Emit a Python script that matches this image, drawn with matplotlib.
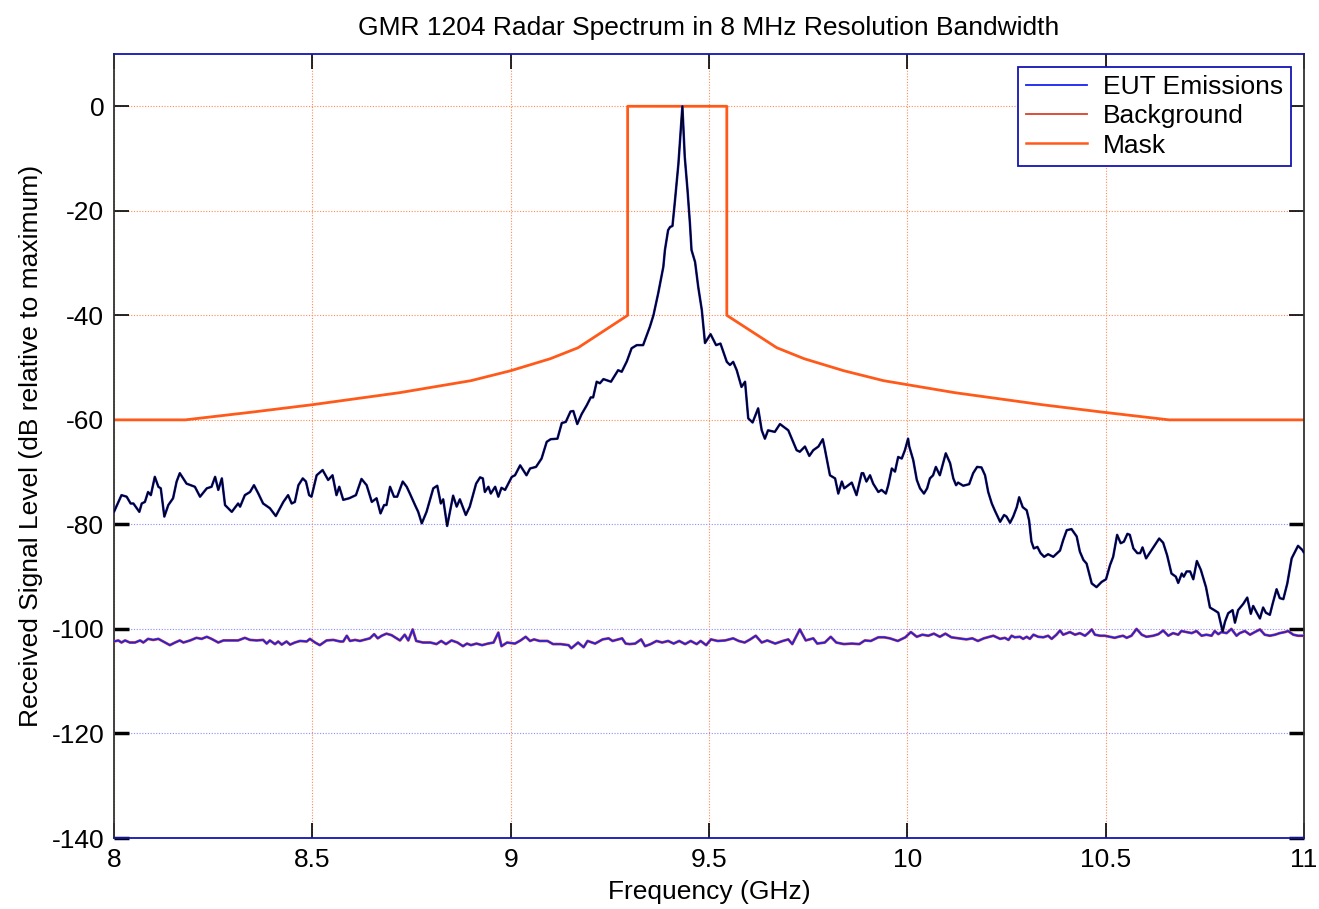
import matplotlib
matplotlib.use('Agg')
import matplotlib.pyplot as plt
from matplotlib.lines import Line2D

plt.rcParams['font.family'] = ['Liberation Sans', 'DejaVu Sans']
plt.rcParams['axes.unicode_minus'] = False

# EUT emissions spectrum (GHz, dB relative to maximum)
eut_freq = [
    8.000, 8.019, 8.032, 8.042, 8.049, 8.064, 8.070, 8.078, 8.086, 8.093,
    8.103, 8.112, 8.118, 8.127, 8.137, 8.149, 8.158, 8.166, 8.183, 8.204,
    8.217, 8.234, 8.246, 8.255, 8.263, 8.272, 8.280, 8.297, 8.313, 8.318,
    8.330, 8.343, 8.353, 8.364, 8.376, 8.393, 8.408, 8.427, 8.439, 8.448,
    8.456, 8.465, 8.476, 8.484, 8.492, 8.498, 8.511, 8.526, 8.540, 8.551,
    8.561, 8.568, 8.578, 8.593, 8.610, 8.624, 8.637, 8.650, 8.662, 8.672,
    8.681, 8.687, 8.696, 8.706, 8.714, 8.728, 8.738, 8.746, 8.759, 8.767,
    8.776, 8.788, 8.805, 8.815, 8.824, 8.830, 8.840, 8.855, 8.864, 8.872,
    8.887, 8.897, 8.913, 8.923, 8.930, 8.935, 8.944, 8.950, 8.961, 8.969,
    8.977, 8.986, 9.003, 9.011, 9.024, 9.040, 9.049, 9.064, 9.078, 9.091,
    9.101, 9.118, 9.129, 9.139, 9.151, 9.158, 9.168, 9.179, 9.192, 9.202,
    9.208, 9.217, 9.225, 9.234, 9.253, 9.271, 9.280, 9.293, 9.305, 9.318,
    9.334, 9.351, 9.360, 9.372, 9.385, 9.389, 9.397, 9.402, 9.408, 9.414,
    9.423, 9.433, 9.439, 9.446, 9.452, 9.456, 9.465, 9.473, 9.482, 9.490,
    9.504, 9.518, 9.529, 9.545, 9.553, 9.561, 9.570, 9.582, 9.591, 9.599,
    9.610, 9.624, 9.633, 9.641, 9.649, 9.666, 9.679, 9.700, 9.721, 9.729,
    9.742, 9.753, 9.763, 9.776, 9.787, 9.792, 9.805, 9.818, 9.826, 9.835,
    9.841, 9.860, 9.872, 9.885, 9.889, 9.897, 9.906, 9.914, 9.927, 9.935,
    9.946, 9.952, 9.961, 9.969, 9.977, 9.986, 9.994, 10.002, 10.005, 10.015,
    10.024, 10.032, 10.042, 10.050, 10.057, 10.065, 10.072, 10.082, 10.097, 10.108,
    10.116, 10.123, 10.128, 10.141, 10.156, 10.166, 10.176, 10.187, 10.196, 10.204,
    10.213, 10.221, 10.234, 10.244, 10.250, 10.259, 10.267, 10.276, 10.282, 10.291,
    10.301, 10.307, 10.313, 10.319, 10.328, 10.336, 10.345, 10.355, 10.368, 10.385,
    10.393, 10.402, 10.414, 10.427, 10.435, 10.444, 10.452, 10.465, 10.477, 10.490,
    10.501, 10.511, 10.519, 10.529, 10.538, 10.546, 10.555, 10.561, 10.570, 10.580,
    10.587, 10.593, 10.602, 10.616, 10.635, 10.645, 10.655, 10.666, 10.677, 10.683,
    10.692, 10.697, 10.704, 10.713, 10.721, 10.730, 10.740, 10.753, 10.763, 10.776,
    10.784, 10.795, 10.801, 10.809, 10.820, 10.826, 10.834, 10.847, 10.857, 10.866,
    10.872, 10.881, 10.889, 10.897, 10.904, 10.914, 10.921, 10.931, 10.939, 10.948,
    10.958, 10.969, 10.985, 10.996, 11.000,
]
eut_level = [
    -77.6, -74.4, -74.7, -76.0, -76.0, -77.6, -76.0, -75.7, -73.8, -74.4,
    -70.9, -72.8, -73.1, -78.5, -76.3, -75.0, -71.8, -70.2, -72.2, -72.8,
    -74.7, -73.1, -72.8, -70.9, -73.4, -71.2, -76.3, -77.6, -76.0, -76.6,
    -74.4, -73.8, -72.5, -74.1, -76.0, -76.9, -78.4, -75.7, -74.4, -76.0,
    -75.7, -72.5, -71.2, -71.8, -74.4, -74.7, -70.6, -69.6, -71.5, -70.6,
    -74.4, -72.8, -75.3, -75.0, -74.4, -71.3, -72.5, -75.7, -75.0, -77.9,
    -76.3, -76.3, -72.8, -74.7, -74.7, -71.8, -72.8, -74.1, -76.3, -77.6,
    -79.8, -77.6, -73.1, -72.6, -76.0, -75.2, -80.3, -74.5, -76.6, -75.2,
    -78.2, -76.6, -72.2, -71.0, -71.2, -73.8, -72.8, -74.1, -72.8, -74.7,
    -73.0, -73.4, -70.9, -70.6, -68.7, -70.6, -69.3, -69.0, -67.4, -64.2,
    -63.7, -63.6, -60.6, -60.4, -58.4, -58.3, -60.8, -58.9, -57.2, -55.7,
    -55.7, -52.7, -53.0, -52.2, -52.7, -50.5, -50.8, -48.8, -46.3, -45.7,
    -45.7, -42.2, -40.0, -35.8, -30.7, -27.5, -23.7, -23.1, -22.9, -18.3,
    -11.0, 0.0, -9.7, -16.1, -22.4, -27.5, -29.8, -34.6, -39.0, -45.3,
    -43.6, -45.7, -45.4, -48.9, -49.5, -48.9, -50.5, -53.7, -52.7, -59.7,
    -60.5, -57.8, -62.0, -63.6, -62.0, -62.3, -60.8, -62.0, -65.8, -66.1,
    -65.1, -66.9, -65.8, -65.1, -63.7, -65.5, -70.6, -71.2, -74.1, -71.8,
    -73.1, -72.0, -74.4, -70.2, -70.2, -71.8, -70.6, -72.2, -73.8, -73.4,
    -74.1, -72.5, -69.3, -69.9, -67.1, -67.4, -65.8, -63.6, -65.1, -67.7,
    -71.5, -73.1, -74.1, -73.1, -71.2, -70.6, -69.0, -70.6, -66.4, -68.3,
    -71.2, -72.5, -72.0, -72.6, -72.3, -70.2, -69.0, -69.1, -70.6, -73.8,
    -76.0, -77.4, -79.5, -78.2, -78.5, -79.7, -78.5, -76.7, -74.8, -76.7,
    -77.3, -79.2, -83.3, -84.6, -84.3, -85.5, -86.2, -85.7, -86.2, -85.0,
    -83.0, -81.1, -80.9, -82.3, -85.2, -86.8, -87.5, -91.3, -92.0, -91.0,
    -90.5, -87.8, -86.2, -82.0, -83.6, -83.3, -81.8, -82.0, -84.6, -85.5,
    -85.5, -84.4, -86.5, -84.9, -82.7, -83.5, -85.9, -89.4, -90.0, -91.2,
    -89.4, -90.0, -89.0, -89.0, -90.5, -87.0, -88.7, -92.0, -95.9, -96.5,
    -96.9, -100.5, -98.6, -97.0, -96.4, -98.8, -96.4, -95.2, -94.0, -97.1,
    -95.6, -96.9, -98.0, -95.9, -96.9, -97.3, -95.2, -92.4, -94.1, -94.3,
    -91.3, -86.5, -84.1, -84.9, -85.4,
]

# background (noise floor) spectrum
bg_freq = [
    8.000, 8.011, 8.019, 8.028, 8.040, 8.053, 8.066, 8.074, 8.086, 8.099,
    8.112, 8.124, 8.141, 8.154, 8.166, 8.175, 8.192, 8.208, 8.221, 8.234,
    8.246, 8.263, 8.276, 8.292, 8.313, 8.330, 8.343, 8.360, 8.376, 8.385,
    8.393, 8.406, 8.414, 8.423, 8.435, 8.444, 8.456, 8.469, 8.486, 8.494,
    8.507, 8.519, 8.536, 8.553, 8.570, 8.578, 8.587, 8.595, 8.608, 8.620,
    8.645, 8.656, 8.665, 8.675, 8.687, 8.700, 8.721, 8.733, 8.742, 8.753,
    8.762, 8.779, 8.798, 8.813, 8.825, 8.837, 8.851, 8.866, 8.880, 8.890,
    8.900, 8.914, 8.928, 8.943, 8.957, 8.969, 8.977, 8.991, 9.011, 9.025,
    9.038, 9.049, 9.059, 9.073, 9.093, 9.107, 9.126, 9.146, 9.153, 9.170,
    9.184, 9.194, 9.213, 9.232, 9.247, 9.257, 9.271, 9.281, 9.290, 9.300,
    9.314, 9.329, 9.339, 9.353, 9.368, 9.382, 9.397, 9.411, 9.425, 9.440,
    9.454, 9.469, 9.479, 9.493, 9.505, 9.522, 9.541, 9.561, 9.575, 9.590,
    9.604, 9.618, 9.633, 9.647, 9.667, 9.686, 9.700, 9.710, 9.729, 9.744,
    9.763, 9.773, 9.792, 9.807, 9.821, 9.840, 9.860, 9.879, 9.893, 9.908,
    9.927, 9.942, 9.956, 9.976, 9.995, 10.009, 10.024, 10.038, 10.053, 10.067,
    10.082, 10.096, 10.111, 10.130, 10.149, 10.164, 10.178, 10.193, 10.217, 10.234,
    10.246, 10.255, 10.263, 10.271, 10.284, 10.292, 10.301, 10.309, 10.318, 10.330,
    10.343, 10.355, 10.364, 10.376, 10.385, 10.393, 10.410, 10.423, 10.435, 10.448,
    10.456, 10.465, 10.473, 10.486, 10.498, 10.511, 10.523, 10.532, 10.544, 10.553,
    10.565, 10.578, 10.591, 10.603, 10.620, 10.633, 10.645, 10.658, 10.670, 10.683,
    10.691, 10.704, 10.717, 10.729, 10.742, 10.754, 10.767, 10.775, 10.784, 10.792,
    10.805, 10.817, 10.830, 10.838, 10.851, 10.864, 10.876, 10.889, 10.901, 10.914,
    10.927, 10.939, 10.952, 10.960, 10.973, 10.985, 11.000,
]
bg_level = [
    -102.4, -102.2, -102.6, -102.2, -102.6, -102.6, -102.2, -102.6, -101.9, -102.1,
    -101.9, -102.4, -103.1, -102.6, -102.2, -102.6, -102.2, -101.7, -101.9, -101.5,
    -101.9, -102.6, -102.2, -102.2, -102.2, -101.7, -102.1, -102.2, -102.1, -102.8,
    -102.2, -102.9, -102.4, -103.0, -102.4, -103.0, -102.6, -102.3, -102.4, -101.9,
    -102.6, -103.1, -102.2, -102.1, -102.4, -102.4, -101.3, -102.3, -102.1, -102.3,
    -101.8, -101.0, -101.8, -101.3, -100.9, -101.2, -102.2, -101.1, -102.2, -100.1,
    -102.3, -102.6, -102.6, -102.9, -102.3, -102.9, -102.2, -102.6, -103.3, -102.8,
    -103.1, -102.8, -103.1, -102.8, -102.6, -100.7, -103.3, -102.6, -102.8, -102.2,
    -101.5, -102.3, -102.0, -102.3, -102.3, -102.9, -102.9, -103.1, -103.7, -102.6,
    -103.5, -102.3, -102.8, -102.0, -101.8, -102.3, -102.0, -101.8, -102.8, -102.9,
    -102.8, -102.0, -103.3, -102.9, -102.3, -102.6, -102.3, -102.8, -102.3, -102.9,
    -102.3, -102.9, -102.3, -103.1, -102.0, -102.3, -102.2, -101.8, -102.3, -102.6,
    -102.0, -101.3, -102.6, -102.2, -102.8, -102.3, -102.0, -102.9, -100.1, -102.2,
    -101.8, -102.8, -102.6, -101.5, -102.6, -102.9, -102.8, -102.9, -102.2, -102.3,
    -101.6, -101.6, -101.8, -102.3, -101.6, -100.6, -101.5, -101.1, -101.3, -100.9,
    -101.5, -100.9, -101.6, -101.8, -102.0, -101.8, -102.3, -101.8, -101.3, -101.9,
    -101.7, -102.1, -101.3, -101.6, -101.5, -101.9, -101.5, -101.9, -101.1, -101.5,
    -101.6, -101.3, -101.9, -101.1, -100.3, -101.1, -100.6, -101.1, -100.8, -101.3,
    -100.8, -100.1, -101.1, -101.3, -101.3, -101.5, -101.7, -101.5, -101.3, -101.7,
    -101.3, -100.0, -101.1, -101.5, -101.3, -101.0, -100.3, -101.3, -100.8, -101.1,
    -100.4, -100.6, -100.8, -100.4, -101.3, -101.1, -101.3, -100.4, -101.0, -100.6,
    -100.8, -100.0, -101.3, -100.8, -100.4, -101.1, -100.6, -100.1, -101.1, -101.3,
    -101.1, -100.8, -100.6, -100.4, -101.1, -101.3, -101.3,
]

# emission mask
mask_freq = [8.0, 8.18, 8.35, 8.5, 8.72, 8.9, 9.0, 9.1, 9.17, 9.295, 9.295,
             9.545, 9.545, 9.671, 9.74, 9.84, 9.94, 10.12, 10.34, 10.49, 10.66, 11.0]
mask_level = [-60, -60, -58.5, -57.1, -54.8, -52.5, -50.6, -48.3, -46.2, -40, 0,
              0, -40, -46.2, -48.3, -50.6, -52.5, -54.8, -57.1, -58.5, -60, -60]

x_ticks = [8, 8.5, 9, 9.5, 10, 10.5, 11]
x_tick_labels = ['8', '8.5', '9', '9.5', '10', '10.5', '11']
y_ticks = [-140, -120, -100, -80, -60, -40, -20, 0]

blue = '#1a22f0'
red = '#d8402a'
orange = '#ff5a1a'
frame_blue = '#1414b4'

fig = plt.figure(figsize=(13.19, 9.09), dpi=100)
ax = fig.add_axes([0.0864, 0.0781, 0.9022, 0.8625])

# background trace (red under blue)
ax.plot(bg_freq, bg_level, color=red, lw=2.0, zorder=3)
ax.plot(bg_freq, bg_level, color=blue, lw=1.2, zorder=4)
# EUT trace (blue under black)
ax.plot(eut_freq, eut_level, color=blue, lw=1.8, zorder=3)
ax.plot(eut_freq, eut_level, color='black', lw=1.1, zorder=4)
# mask
ax.plot(mask_freq, mask_level, color=orange, lw=2.0, zorder=2)

ax.set_xlim(8, 11)
ax.set_ylim(-140, 10)
ax.set_xticks(x_ticks)
ax.set_xticklabels(x_tick_labels)
ax.set_yticks(y_ticks)

ax.grid(True, linestyle=(0, (1, 1.5)), linewidth=0.8, zorder=1)
for line, val in zip(ax.get_xgridlines(), x_ticks):
    line.set_color('#ff8a55')
for line, val in zip(ax.get_ygridlines(), y_ticks):
    line.set_color('#ff8a55' if val > -70 else '#8a8cff')

ax.tick_params(direction='in', length=11, width=1.2, labelsize=19,
               top=True, right=True, pad=7, colors='black')
for tick, val in zip(ax.yaxis.get_major_ticks(), y_ticks):
    if val <= -80:
        tick.tick1line.set_color(frame_blue)
        tick.tick2line.set_color(frame_blue)
        tick.tick1line.set_markeredgewidth(2.5)
        tick.tick2line.set_markeredgewidth(2.5)

ax.spines['top'].set_color(frame_blue)
ax.spines['bottom'].set_color(frame_blue)
ax.spines['left'].set_color('#333333')
ax.spines['right'].set_color('#333333')
for s in ax.spines.values():
    s.set_linewidth(1.3)

ax.set_title('GMR 1204 Radar Spectrum in 8 MHz Resolution Bandwidth', fontsize=19, pad=14)
ax.set_xlabel('Frequency (GHz)', fontsize=19, labelpad=6)
ax.set_ylabel('Received Signal Level (dB relative to maximum)', fontsize=19, labelpad=6)

handles = [Line2D([], [], color=blue, lw=1.3),
           Line2D([], [], color=red, lw=1.3),
           Line2D([], [], color=orange, lw=1.8)]
leg = ax.legend(handles, ['EUT Emissions', 'Background', 'Mask'], loc='upper right',
                fontsize=19, fancybox=False, framealpha=1, edgecolor=frame_blue,
                borderaxespad=0.5, borderpad=0.3, handlelength=2.3,
                labelspacing=0.2, handletextpad=0.6)
leg.get_frame().set_linewidth(1.3)
leg.set_zorder(10)

fig.savefig('out.png', dpi=100)
